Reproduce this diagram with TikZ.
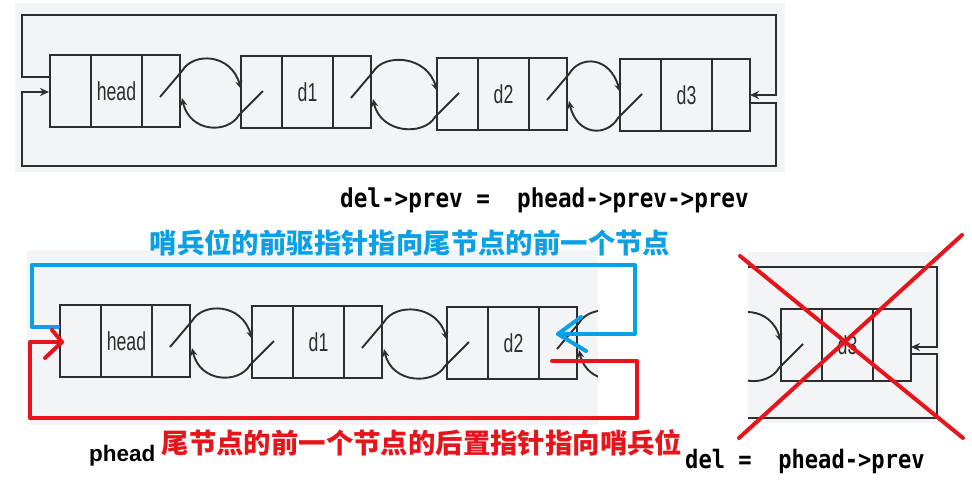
\documentclass[tikz,border=0pt]{standalone}
\usepackage{fontspec}
\usetikzlibrary{calc,arrows.meta}
\newfontfamily\cjk{Noto Sans CJK SC}
\newfontfamily\narrowfont{Liberation Sans}[FakeStretch=0.68]
\newfontfamily\codefont{DejaVu Sans Mono}[FakeStretch=0.87]
\newfontfamily\labelfont{Liberation Sans}
\definecolor{bgc}{HTML}{F2F4F6}
\definecolor{lnc}{HTML}{2E2E2E}
\definecolor{bluec}{HTML}{0AA0E6}
\definecolor{redc}{HTML}{E8141C}
\tikzset{
  cell/.style={draw=lnc, line width=2.3pt, fill=bgc, inner sep=0pt, outer sep=0pt,
    anchor=north west, minimum height=72pt, text=lnc,
    font=\narrowfont\fontsize{26}{26}\selectfont},
  ghost/.style={inner sep=0pt, outer sep=0pt, anchor=north west, minimum height=72pt},
  curve/.style={draw=lnc, line width=1.9pt, -{Stealth[length=8pt,width=7pt]}},
  loopl/.style={draw=lnc, line width=2.5pt},
  looparrow/.style={loopl, -{Stealth[length=9pt,width=8pt]}},
  blueline/.style={draw=bluec, line width=4pt, line cap=round, line join=round},
  redline/.style={draw=redc, line width=4pt, line cap=round, line join=round},
  codetxt/.style={anchor=base west, inner sep=0pt, text=black,
    font=\codefont\bfseries\fontsize{26}{26}\selectfont},
  cjktxt/.style={inner sep=0pt, font=\cjk\bfseries\fontsize{27.4}{27.4}\selectfont},
  bgbox/.style={fill=bgc, draw=none}
}
\newcommand\lnode[4]{%
  \node[cell, minimum width=41pt] (#1a) at (#2,#3) {};
  \node[cell, minimum width=51pt] (#1b) at (#2+41,#3) {#4};
  \node[cell, minimum width=38pt] (#1c) at (#2+92,#3) {};
}
\newcommand\lnk[2]{%
  \draw[curve] ($(#1.north east)+(-20,42)$) -- ($(#1.north east)+(2,16)$)
    .. controls ($(#1.north east)+(13,-3)$) and ($(#2.north west)+(-10,-3)$) .. ($(#2.north west)+(0,33)$);
  \draw[curve] ($(#2.north west)+(22,35)$) -- ($(#2.north west)+(-2,59)$)
    .. controls ($(#2.north west)+(-13,78)$) and ($(#1.north east)+(10,78)$) .. ($(#1.north east)+(2,43)$);
}
\begin{document}
\begin{tikzpicture}[x=1pt,y=-1pt]
\useasboundingbox (0,0) rectangle (972,488);
% ---------- top panel ----------
\fill[bgc] (15,3) rectangle (785,172);
\lnode{th}{50}{55}{head}
\lnode{ta}{241}{56}{d1}
\lnode{tb}{437}{58}{d2}
\lnode{tc}{620}{59}{d3}
\lnk{thc}{taa}
\lnk{tac}{tba}
\lnk{tbc}{tca}
\draw[looparrow] ($(tha.north west)+(0,22)$) -- (22,77) -- (22,15) -- (776,15) -- (776,95) -- ($(tcc.north east)+(0,36)$);
\draw[looparrow] ($(tcc.north east)+(0,44)$) -- (776,103) -- (776,166) -- (22,166) -- (22,92) -- ($(tha.north west)+(-1,37)$);
\node[codetxt] (code1) at (340,207) {del->prev =\ \ phead->prev->prev};
% ---------- bottom panel ----------
\fill[bgc] (27,250) rectangle (598,425);
\begin{scope}
\clip (27,250) rectangle (598,425);
\lnode{bh}{60}{305}{head}
\lnode{ba}{252}{306}{d1}
\lnode{bb}{447}{307}{d2}
\node[ghost, minimum width=41pt] (bca) at (640,308) {};
\lnk{bhc}{baa}
\lnk{bac}{bba}
\lnk{bbc}{bca}
\end{scope}
\node[cjktxt, text=bluec] (bluetxt) at (410,243) {哨兵位的前驱指针指向尾节点的前一个节点};
\node[cjktxt, text=redc] (redtxt) at (422,443) {尾节点的前一个节点的后置指针指向哨兵位};
\node[anchor=base west, inner sep=0pt, font=\labelfont\bfseries\fontsize{22.5}{22.5}\selectfont] (phead) at (89,461) {phead};
\coordinate (btip) at ($(bbc.north west)+(19,27)$);
\draw[blueline] ($(bha.north west)+(-2,22)$) -- (32,327) -- (32,265) -- (635,265) -- (635,334) -- (btip);
\draw[blueline] ($(btip)+(23,-17)$) -- (btip) -- ($(btip)+(28,17)$);
\coordinate (rtip) at ($(bha.north west)+(2,37)$);
\draw[redline] ($(bbc.north west)+(13,54)$) -- (637,361) -- (637,418) -- (30,418) -- (30,342) -- (rtip);
\draw[redline] ($(rtip)+(-10,-12)$) -- (rtip) -- ($(rtip)+(-17,16)$);
% ---------- right panel ----------
\fill[bgc] (748,252) rectangle (940,423);
\begin{scope}
\clip (748,252) rectangle (940,423);
\lnode{rc}{781}{309}{d3}
\node[ghost, minimum width=38pt] (rbc) at (682,309) {};
\lnk{rbc}{rca}
\end{scope}
\draw[looparrow] (748,267) -- (937,267) -- (937,347) -- ($(rcc.north east)+(0,38)$);
\draw[loopl] ($(rcc.north east)+(0,45)$) -- (937,354) -- (937,418) -- (748,418);
\draw[redline] (740,256) -- (963,438);
\draw[redline] (962,235) -- (739,438);
\node[codetxt, font=\codefont\bfseries\fontsize{25.4}{25.4}\selectfont] (code2) at (685,468) {del =\ \ phead->prev};
\end{tikzpicture}
\end{document}
